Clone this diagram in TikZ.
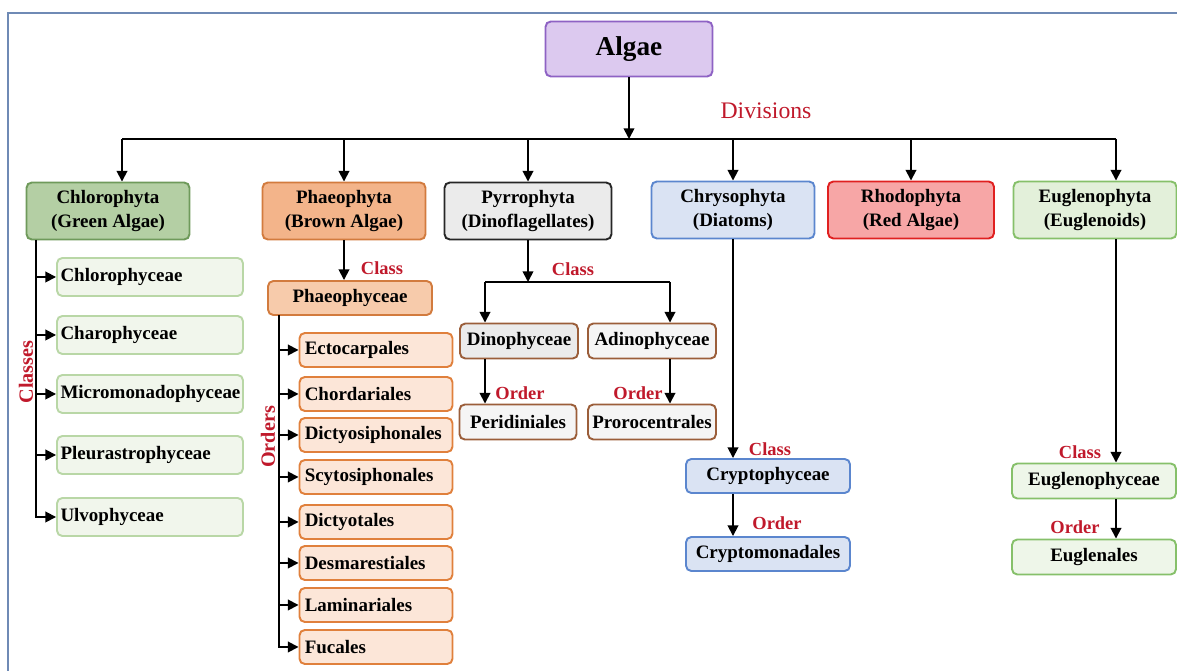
\documentclass[tikz,border=0pt]{standalone}
\usepackage{fontspec}
\setmainfont{Liberation Serif}
\usepackage{tikz}
\usetikzlibrary{arrows.meta,positioning}
\usepackage{xcolor}

\definecolor{framecol}{HTML}{6F8AB5}
\definecolor{lblred}{HTML}{C0192B}
\definecolor{algfill}{HTML}{DCC9EF}
\definecolor{algdraw}{HTML}{8E62C4}
\definecolor{chlfill}{HTML}{B4CFA4}
\definecolor{chldraw}{HTML}{6F9A5B}
\definecolor{clsfill}{HTML}{F1F6EC}
\definecolor{clsdraw}{HTML}{B9D7A6}
\definecolor{phfill}{HTML}{F3B48A}
\definecolor{phdraw}{HTML}{D27B3E}
\definecolor{phcfill}{HTML}{F7CBAB}
\definecolor{ordfill}{HTML}{FCE6D8}
\definecolor{orddraw}{HTML}{E0803C}
\definecolor{pyfill}{HTML}{EBEBEB}
\definecolor{pydraw}{HTML}{262626}
\definecolor{dinodraw}{HTML}{9B5E3A}
\definecolor{chfill}{HTML}{DAE3F3}
\definecolor{chdraw}{HTML}{5B86CE}
\definecolor{rhfill}{HTML}{F7A6A6}
\definecolor{rhdraw}{HTML}{E02020}
\definecolor{eufill}{HTML}{E3F0DA}
\definecolor{eudraw}{HTML}{86C06A}

\begin{document}
\begin{tikzpicture}[x=0.02cm, y=-0.02cm, >={Triangle[length=6pt,width=6pt]}, line width=1pt,
    box/.style={rectangle, rounded corners=3pt, draw, line width=1.1pt, inner sep=2pt,
        align=center, font=\bfseries\fontsize{10.8}{13.8}\selectfont},
    divbox/.style={box, minimum width=3.26cm, minimum height=1.14cm},
    clsbox/.style={box, fill=clsfill, draw=clsdraw, minimum height=0.76cm,
        text width=3.58cm, align=left},
    ordbox/.style={box, fill=ordfill, draw=orddraw, minimum height=0.68cm,
        inner xsep=3pt, text width=2.85cm, align=left},
    dinobox/.style={box, draw=dinodraw, minimum height=0.7cm},
    lbl/.style={text=lblred, font=\bfseries\fontsize{10.5}{12}\selectfont},
    sidelbl/.style={lbl, rotate=90, font=\bfseries\fontsize{11.5}{13}\selectfont}]
    \useasboundingbox (0,0) rectangle (1177,671);
    \draw[framecol, line width=1.2pt] (8,671) -- (8,13) -- (1177,13);

    % root and divisions
    \node[box, fill=algfill, draw=algdraw, minimum width=3.34cm, minimum height=1.1cm,
        font=\bfseries\fontsize{15.5}{18}\selectfont] (algae) at (629,49) {Algae};
    \coordinate (divbar) at (629,139);
    \coordinate (bl) at (122,139);
    \coordinate (br) at (1116,139);
    \draw[->] (algae) -- (divbar);
    \draw (bl) -- (br);
    \node[text=lblred, font=\fontsize{13.5}{16}\selectfont] (divlbl) at (766,111) {Divisions};

    \node[divbox, fill=chlfill, draw=chldraw] (chloro) at (108,211) {Chlorophyta\\(Green Algae)};
    \node[divbox, fill=phfill, draw=phdraw] (phaeo) at (344,211) {Phaeophyta\\(Brown Algae)};
    \node[divbox, fill=pyfill, draw=pydraw, minimum width=3.34cm] (pyrro) at (528,211) {Pyrrophyta\\(Dinoflagellates)};
    \node[divbox, fill=chfill, draw=chdraw] (chryso) at (733,210) {Chrysophyta\\(Diatoms)};
    \node[divbox, fill=rhfill, draw=rhdraw, minimum width=3.32cm] (rhodo) at (911,210) {Rhodophyta\\(Red Algae)};
    \node[divbox, fill=eufill, draw=eudraw] (eugleno) at (1095,210) {Euglenophyta\\(Euglenoids)};

    \draw[->] (bl) -- (bl |- chloro.north);
    \draw[->] (phaeo |- divbar) -- (phaeo);
    \draw[->] (pyrro |- divbar) -- (pyrro);
    \draw[->] (chryso |- divbar) -- (chryso);
    \draw[->] (rhodo |- divbar) -- (rhodo);
    \draw[->] (br) -- (br |- eugleno.north);

    % Chlorophyta classes
    \foreach \name/\txt/\y in {chloroph/Chlorophyceae/277, charoph/Charophyceae/335,
        micro/Micromonadophyceae/394, pleura/Pleurastrophyceae/455, ulvo/Ulvophyceae/517}
        \node[clsbox] (\name) at (150,\y) {\txt};
    \coordinate (clstem) at (36,240);
    \draw[->] (clstem) |- (ulvo);
    \foreach \name in {chloroph,charoph,micro,pleura}
        \draw[->] (clstem |- \name) -- (\name);
    \node[sidelbl] (classes) at (26,372) {Classes};

    % Phaeophyta
    \node[box, fill=phcfill, draw=phdraw, minimum width=3.28cm, minimum height=0.68cm] (phaeocl) at (350,298) {Phaeophyceae};
    \draw[->] (phaeo) -- (phaeo |- phaeocl.north);
    \node[lbl] (phclass) at (382,268) {Class};
    \foreach \name/\txt/\y in {ecto/Ectocarpales/350, chorda/Chordariales/394,
        dictyosi/Dictyosiphonales/435, scyto/Scytosiphonales/477, dictyo/Dictyotales/522,
        desma/Desmarestiales/563, lamin/Laminariales/605, fucal/Fucales/647}
        \node[ordbox] (\name) at (376,\y) {\txt};
    \coordinate (ordstem) at (279,315);
    \draw[->] (ordstem) |- (fucal);
    \foreach \name in {ecto,chorda,dictyosi,scyto,dictyo,desma,lamin}
        \draw[->] (ordstem |- \name) -- (\name);
    \node[sidelbl] (orders) at (268,437) {Orders};

    % Pyrrophyta
    \coordinate (pybar) at (528,282);
    \coordinate (pyl) at (485,282);
    \coordinate (pyr) at (670,282);
    \draw[->] (pyrro) -- (pybar);
    \draw (pyl) -- (pyr);
    \node[lbl] (pyclass) at (573,269) {Class};
    \node[dinobox, fill=pyfill, minimum width=2.36cm] (dino) at (519,341) {Dinophyceae};
    \node[dinobox, fill=white!96!black, minimum width=2.56cm] (adino) at (652,341) {Adinophyceae};
    \node[dinobox, fill=white!96!black, minimum width=2.34cm] (peri) at (518,422) {Peridiniales};
    \node[dinobox, fill=white!96!black, minimum width=2.56cm] (proro) at (652,422) {Prorocentrales};
    \draw[->] (pyl) -- (pyl |- dino.north);
    \draw[->] (pyr) -- (pyr |- adino.north);
    \draw[->] (pyl |- dino.south) -- (pyl |- peri.north);
    \draw[->] (pyr |- adino.south) -- (pyr |- proro.north);
    \node[lbl] (periord) at (520,393) {Order};
    \node[lbl] (proord) at (638,393) {Order};

    % Chrysophyta
    \node[box, fill=chfill, draw=chdraw, minimum width=3.28cm, minimum height=0.68cm] (crypto) at (768,476) {Cryptophyceae};
    \node[box, fill=chfill, draw=chdraw, minimum width=3.28cm, minimum height=0.68cm] (cryptom) at (768,554) {Cryptomonadales};
    \draw[->] (chryso) -- (chryso |- crypto.north);
    \draw[->] (chryso |- crypto.south) -- (chryso |- cryptom.north);
    \node[lbl] (chclass) at (770,449) {Class};
    \node[lbl] (chord) at (777,523) {Order};

    % Euglenophyta
    \node[box, fill=eufill!60!white, draw=eudraw, minimum width=3.28cm, minimum height=0.7cm] (euglcl) at (1094,481) {Euglenophyceae};
    \node[box, fill=eufill!60!white, draw=eudraw, minimum width=3.28cm, minimum height=0.7cm] (euglen) at (1094,557) {Euglenales};
    \draw[->] (br |- eugleno.south) -- (br |- euglcl.north);
    \draw[->] (br |- euglcl.south) -- (br |- euglen.north);
    \node[lbl] (euclass) at (1080,452) {Class};
    \node[lbl] (euord) at (1075,527) {Order};
\end{tikzpicture}
\end{document}
